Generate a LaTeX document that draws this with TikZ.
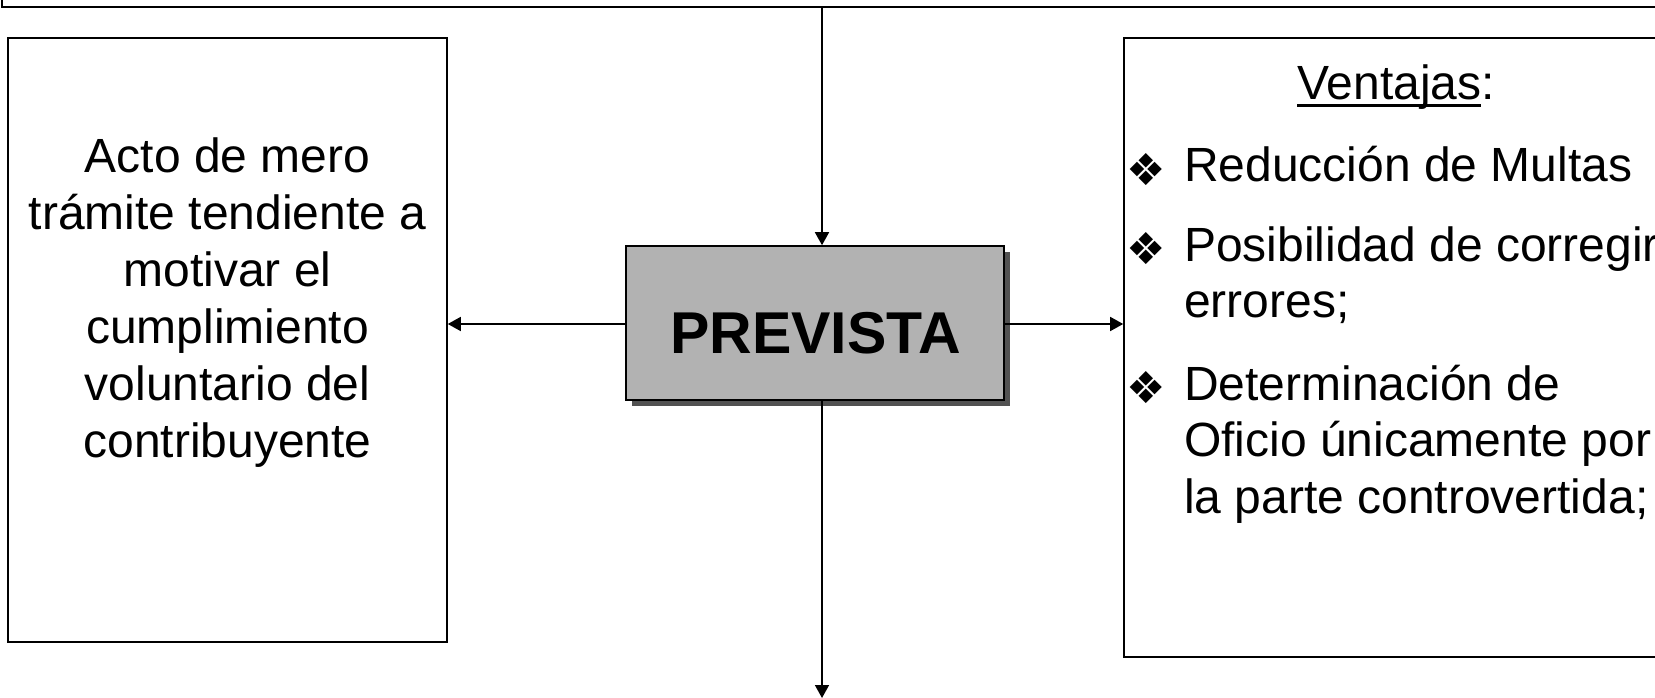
\documentclass[tikz,border=0pt]{standalone}
\usepackage{fontspec}
\setmainfont{Liberation Sans}
\newfontfamily\symfont{DejaVu Sans}
\usetikzlibrary{arrows.meta}
\newcommand\myul[1]{\setbox0\hbox{#1}\rlap{\rule[-7pt]{\wd0}{3pt}}\box0}
\tikzset{
  box/.style={draw=black, line width=1.6pt, fill=white, inner sep=0pt},
  conn/.style={line width=1.6pt, -{Triangle[length=13pt,width=14pt]}},
  lefttxt/.style={anchor=base, inner sep=0pt, font=\fontsize{48}{57}\selectfont},
  righttxt/.style={anchor=base west, inner sep=0pt, font=\fontsize{48}{57}\selectfont},
  bul/.style={anchor=center, inner sep=0pt, font=\symfont\fontsize{44}{44}\selectfont},
}
\begin{document}
\begin{tikzpicture}[x=1pt,y=-1pt]
\useasboundingbox[fill=white] (0,0) rectangle (1655,698);
% top box (cut off)
\node[box, minimum width=1700pt, minimum height=60pt] (top) at (852,-23) {};
% left box
\node[box, minimum width=439pt, minimum height=604pt] (left) at (227.5,340) {};
% right box
\node[box, minimum width=546pt, minimum height=619pt] (right) at (1397,347.5) {};
% central box with shadow
\fill[black!68] (632,252) rectangle (1010,406);
\node[draw=black, line width=1.6pt, fill=black!30, inner sep=0pt, minimum width=378pt, minimum height=154pt] (prev) at (815,323) {};
\node[anchor=base, inner sep=0pt, font=\fontsize{59}{60}\selectfont\bfseries] (prevtxt) at (815.5,353) {PREVISTA};

% left text
\node[lefttxt] (l1) at (227.5,172) {Acto de mero};
\node[lefttxt] (l2) at (227.5,229) {trámite tendiente a};
\node[lefttxt] (l3) at (227.5,286) {motivar el};
\node[lefttxt] (l4) at (227.5,343) {cumplimiento};
\node[lefttxt] (l5) at (227.5,400) {voluntario del};
\node[lefttxt] (l6) at (227.5,457) {contribuyente};

% right text
\node[anchor=base, inner sep=0pt, font=\fontsize{48}{57}\selectfont] (vent) at (1396,100) {\myul{Ventajas}:};
\node[bul] (b1) at (1146,170) {❖};
\node[righttxt] (r1) at (1184,182) {Reducción de Multas};
\node[bul] (b2) at (1146,249) {❖};
\node[righttxt] (r2) at (1184,261) {Posibilidad de corregir};
\node[righttxt] (r3) at (1184,317) {errores;};
\node[bul] (b3) at (1146,388) {❖};
\node[righttxt] (r4) at (1184,400) {Determinación de};
\node[righttxt] (r5) at (1184,456) {Oficio únicamente por};
\node[righttxt] (r6) at (1184,513) {la parte controvertida;};

% connectors
\coordinate (tA) at (822,7);
\coordinate (bot) at (822,698);
\draw[conn] (tA) -- (tA |- prev.north);
\draw[conn] (prev.west |- 0,324) -- (left.east |- 0,324);
\draw[conn] (prev.east |- 0,324) -- (right.west |- 0,324);
\draw[conn] (prev.south -| bot) -- (bot);
\end{tikzpicture}
\end{document}
